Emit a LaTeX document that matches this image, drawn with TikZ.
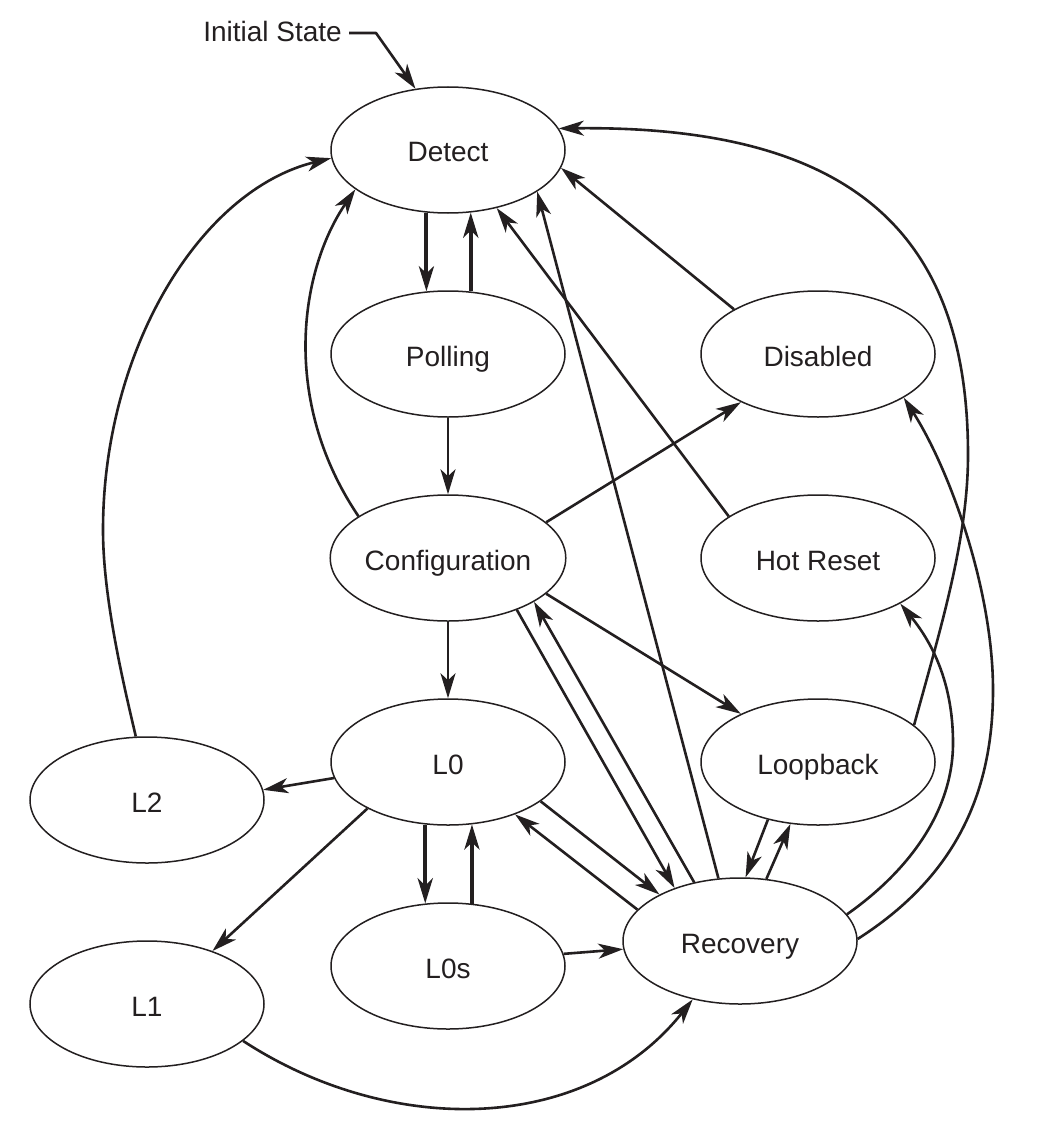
\documentclass[tikz,border=0pt]{standalone}
\usepackage{fontspec}
\setmainfont{Liberation Sans}
\usetikzlibrary{arrows.meta,shapes.geometric}
\definecolor{ink}{HTML}{231F20}
\begin{document}
\begin{tikzpicture}[x=1pt,y=-1pt,
  label font/.style={font=\fontsize{28}{32}\selectfont, text=ink, text height=24pt, text depth=0pt},
  state/.style={ellipse, draw=ink, line width=1.5pt, minimum width=234pt,
    minimum height=126pt, inner sep=0pt, label font},
  link/.style={draw=ink, line width=2.6pt, line join=round,
    -{Stealth[length=25pt,width=15pt,inset=7pt]}},
  heavy/.style={link, line width=4pt},
]
\useasboundingbox (0,0) rectangle (1042,1142);
\fill[white] (0,0) rectangle (1042,1142);

% states
\node[state] (Detect)        at (448,150) {Detect};
\node[state] (Polling)       at (448,354) {Polling};
\node[state] (Configuration) at (448,558) {Configuration};
\node[state] (L0)            at (448,762) {L0};
\node[state] (L0s)           at (448,966) {L0s};
\node[state] (Disabled)      at (818,354) {Disabled};
\node[state] (HotReset)      at (818,558) {Hot Reset};
\node[state] (Loopback)      at (818,762) {Loopback};
\node[state] (Recovery)      at (740,941) {Recovery};
\node[state] (L2)            at (147,800) {L2};
\node[state] (L1)            at (147,1004) {L1};

% entry point
\node[label font, anchor=east, inner sep=0pt] (init) at (342,30) {Initial State};
\coordinate (elbow) at (376,33);
\draw[link] ([xshift=7pt,yshift=-3pt]init.east) -- (elbow) -- (Detect.118.6);

% Detect <-> Polling -> Configuration
\draw[heavy] (Detect.-109.5) -- (Polling.109.5);
\draw[heavy] (Polling.70.5) -- (Detect.-70.5);
\draw[link] (Polling.south) -- (Configuration.north);

% returns to Detect
\draw[link] (Configuration.155.7) .. controls (280,400) and (300,270) .. (Detect.203.6);
\draw[link] (L2.100.8) .. controls (125,690) and (103,600) .. (103,530)
  .. controls (103,350) and (200,190) .. (Detect.184.4);
\draw[link] (Disabled.152.9) -- (Detect.-9.5);
\draw[link] (HotReset.155.3) -- (Detect.-50);
\draw[link] (Recovery.109.3) -- (Detect.-25);
\draw[link] (Loopback.21.8) .. controls (940,630) and (968,540) .. (968,455)
  .. controls (968,240) and (860,125) .. (Detect.11.1);

% out of Configuration
\draw[link] (Configuration.20.4) -- (Disabled.-148.8);
\draw[link] (Configuration.south) -- (L0.north);
\draw[link] (Configuration.-20.2) -- (Loopback.148);
\draw[link] (Configuration.-37.6) -- (Recovery.141);
\draw[link] (Recovery.128.5) -- (Configuration.-27.3);

% out of L0
\draw[link] (L0.188.4) -- (L2.5.3);
\draw[link] (L0.210) -- (L1.39.5);
\draw[heavy] (L0.-110.4) -- (L0s.110.4);
\draw[heavy] (L0s.69.6) -- (L0.-69.6);
\draw[link] (L0.-23) -- (Recovery.150.5);
\draw[link] (Recovery.163.4) -- (L0.-38.2);

% into Recovery
\draw[link] (L0s.6.5) -- (Recovery.184.4);
\draw[link] (L1.-21.6) .. controls (390,1137) and (585,1135) .. (Recovery.231.5);
\draw[link] (Loopback.229.3) -- (Recovery.85);
\draw[link] (Recovery.67.2) -- (Loopback.-114.7);

% from Recovery to Hot Reset and Disabled
\draw[link] (Recovery.14.7) .. controls (910,870) and (953,810) .. (953,743)
  .. controls (953,680) and (930,640) .. (HotReset.-29.7);
\draw[link] (Recovery.1) .. controls (950,880) and (993,800) .. (993,690)
  .. controls (993,590) and (950,470) .. (Disabled.-27.8);
\end{tikzpicture}
\end{document}
